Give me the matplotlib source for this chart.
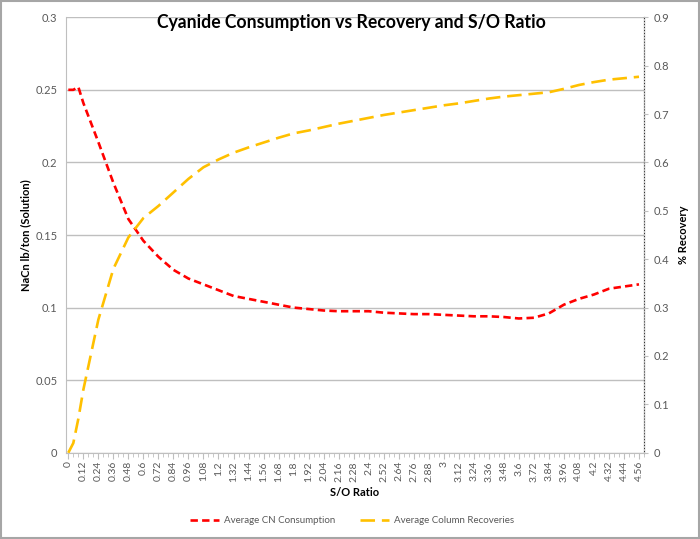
import matplotlib

matplotlib.use("Agg")
import matplotlib.pyplot as plt
from matplotlib.patches import Rectangle

plt.rcParams["font.family"] = ["Lato", "DejaVu Sans"]

# S/O ratio sample points (read at the labelled categories)
so_ratio = [0, 0.04, 0.08, 0.12, 0.24, 0.36, 0.48, 0.60, 0.72, 0.84, 0.96, 1.08,
            1.20, 1.32, 1.44, 1.56, 1.68, 1.80, 1.92, 2.04, 2.16, 2.28, 2.40,
            2.52, 2.64, 2.76, 2.88, 3.00, 3.12, 3.24, 3.36, 3.48, 3.60, 3.72,
            3.84, 3.96, 4.08, 4.20, 4.32, 4.44, 4.56]

cn_consumption = [0.250, 0.250, 0.252, 0.241, 0.214, 0.186, 0.161, 0.146, 0.135,
                  0.126, 0.120, 0.116, 0.112, 0.108, 0.106, 0.104, 0.102, 0.100,
                  0.099, 0.098, 0.0975, 0.0975, 0.0975, 0.0965, 0.096, 0.0955,
                  0.0955, 0.095, 0.0945, 0.094, 0.094, 0.0935, 0.0925, 0.093,
                  0.096, 0.102, 0.106, 0.109, 0.113, 0.1145, 0.116]

column_recovery = [0.0, 0.02, 0.07, 0.13, 0.275, 0.38, 0.445, 0.485, 0.51, 0.538,
                   0.566, 0.59, 0.606, 0.62, 0.631, 0.641, 0.651, 0.66, 0.666,
                   0.673, 0.68, 0.686, 0.692, 0.698, 0.703, 0.708, 0.713, 0.718,
                   0.722, 0.727, 0.732, 0.736, 0.739, 0.742, 0.745, 0.752, 0.760,
                   0.766, 0.771, 0.774, 0.777]

x_labels = [round(i * 0.12, 2) for i in range(39)]
left_ticks = [0, 0.05, 0.1, 0.15, 0.2, 0.25, 0.3]
right_ticks = [0, 0.1, 0.2, 0.3, 0.4, 0.5, 0.6, 0.7, 0.8, 0.9]

GRAY = "#595959"
RED = "#FF0000"
YELLOW = "#FFC000"

fig = plt.figure(figsize=(7.0, 5.39), dpi=100)
ax = fig.add_axes([0.094, 0.16, 0.826, 0.808])
ax2 = ax.twinx()

(cn_line,) = ax.plot(so_ratio, cn_consumption, color=RED, lw=1.9,
                     dashes=(2.8, 1.6), label="Average CN Consumption", zorder=3)
(rec_line,) = ax2.plot(so_ratio, column_recovery, color=YELLOW, lw=1.9,
                       dashes=(5.5, 2.6), label="Average Column Recoveries", zorder=3)

ax.set_xlim(-0.02, 4.58)
ax.set_ylim(0, 0.3)
ax2.set_ylim(0, 0.9)

ax.set_yticks(left_ticks)
ax.set_yticklabels([f"{t:g}" for t in left_ticks])
ax2.set_yticks(right_ticks)
ax2.set_yticklabels([f"{t:g}" for t in right_ticks])
ax.set_xticks(x_labels)
ax.set_xticklabels([f"{t:g}" for t in x_labels], rotation=90)
ax.set_xticks([round(i * 0.04, 2) for i in range(116)], minor=True)

ax.yaxis.grid(True, color="#BFBFBF", lw=1.0)
ax.set_axisbelow(True)

ax.tick_params(axis="y", length=0, labelsize=8, colors=GRAY, pad=6)
ax2.tick_params(axis="y", length=3, labelsize=8, colors=GRAY, pad=4, color="#BFBFBF")
ax.tick_params(axis="x", which="major", length=4, labelsize=7.5, colors=GRAY,
               color="#BFBFBF", pad=2)
ax.tick_params(axis="x", which="minor", length=3, color="#BFBFBF")

ax.spines["top"].set_visible(False)
ax2.spines["top"].set_visible(False)
ax.spines["left"].set_color("#BFBFBF")
ax.spines["bottom"].set_color("#BFBFBF")
ax2.spines["left"].set_visible(False)
ax2.spines["bottom"].set_visible(False)
ax2.spines["right"].set_color("#BFBFBF")
ax2.spines["right"].set_linestyle(":")

ax.set_xlabel("S/O Ratio", fontsize=8, fontweight="bold", labelpad=4)
ax.set_ylabel("NaCn lb/ton (Solution)", fontsize=8, fontweight="bold", labelpad=3)
ax2.set_ylabel("% Recovery", fontsize=8, fontweight="bold", labelpad=6)

fig.text(0.502, 0.959, "Cyanide Consumption vs Recovery and S/O Ratio",
         ha="center", va="center", fontsize=12.7, fontweight="bold")

fig.legend(handles=[cn_line, rec_line], loc="center", bbox_to_anchor=(0.503, 0.034),
           ncol=2, frameon=False, fontsize=7, handlelength=3.0, handletextpad=0.5,
           columnspacing=2.5, labelcolor=GRAY)

fig.patches.append(Rectangle((0.001, 0.001), 0.998, 0.998, transform=fig.transFigure,
                             fill=False, edgecolor="#A6A6A6", lw=1.5))

fig.savefig("out.png", dpi=100)
